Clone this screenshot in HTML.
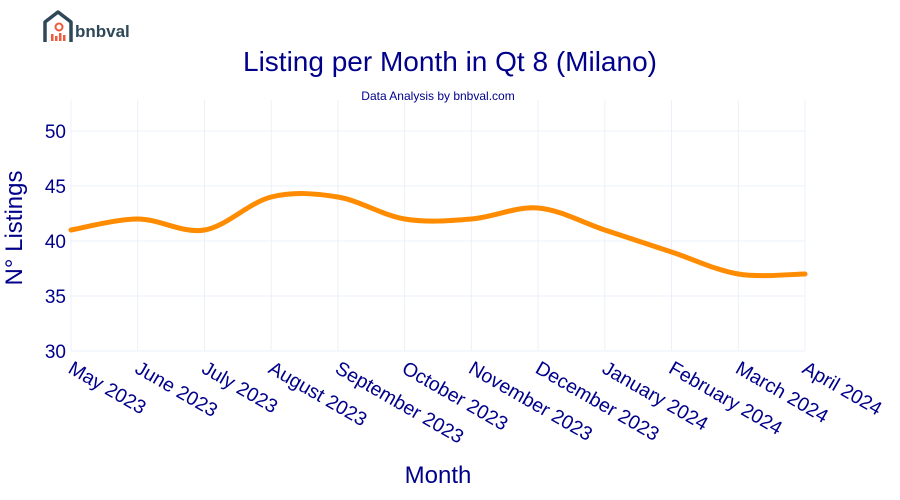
<!DOCTYPE html>
<html><head><meta charset="utf-8"><style>
body{margin:0;background:#fff;font-family:"Liberation Sans",Arial,sans-serif}
svg{display:block}
</style></head><body>
<svg width="900" height="500">
<g>
<path d="M45 42 V22 L58 12 L71 22 V42" fill="none" stroke="#2f4858" stroke-width="3.5" stroke-linejoin="round"/>
<circle cx="59" cy="27" r="3.5" fill="none" stroke="#f05a3c" stroke-width="2"/>
<rect x="51" y="34" width="2.5" height="7" fill="#f05a3c"/><rect x="55" y="36" width="2.5" height="5" fill="#f05a3c"/><rect x="59" y="33" width="2.5" height="8" fill="#f05a3c"/><rect x="63" y="35" width="2.5" height="6" fill="#f05a3c"/>
<text x="75" y="37" font-size="17" font-weight="bold" fill="#2f4858">bnbval</text>
</g>
<text x="450" y="71" text-anchor="middle" font-size="28" fill="#00008b">Listing per Month in Qt 8 (Milano)</text>
<text x="438" y="100" text-anchor="middle" font-size="12" fill="#00008b">Data Analysis by bnbval.com</text>
<g id="grid"></g>
<g id="yticks"></g>
<g id="xticks"></g>
<path id="line" fill="none" stroke="#ff8c00" stroke-width="5" stroke-linecap="round"/>
<text transform="translate(22,228) rotate(-90)" text-anchor="middle" font-size="24" fill="#00008b">N° Listings</text>
<text x="438" y="483" text-anchor="middle" font-size="24" fill="#00008b">Month</text>
</svg>
<script>
const months=["May 2023","June 2023","July 2023","August 2023","September 2023","October 2023","November 2023","December 2023","January 2024","February 2024","March 2024","April 2024"];
const listings=[41,42,41,44,44,42,42,43,41,39,37,37];
const yTicks=[30,35,40,45,50];
const NS="http://www.w3.org/2000/svg";
const X0=71,X1=805,Y0=351,YPER=11;
const xs=i=>X0+i*(X1-X0)/(months.length-1);
const ys=v=>Y0-(v-30)*YPER;
const grid=document.getElementById('grid'),yt=document.getElementById('yticks'),xt=document.getElementById('xticks');
function mk(tag,attrs,parent){const e=document.createElementNS(NS,tag);for(const k in attrs)e.setAttribute(k,attrs[k]);parent.appendChild(e);return e;}
yTicks.forEach(v=>{
 const l=mk('line',{x1:X0,x2:X1,y1:ys(v),y2:ys(v),stroke:'#ebf0f8','stroke-width':1},grid);
 
 
 const t=mk('text',{x:66,y:ys(v)+7,'text-anchor':'end','font-size':19,fill:'#00008b'},yt);
 t.textContent=v;
 
 
});
months.forEach((m,i)=>{
 const l=mk('line',{x1:xs(i),x2:xs(i),y1:100,y2:Y0,stroke:'#ebf0f8','stroke-width':1},grid);
 
 
 const t=mk('text',{transform:`translate(${xs(i)-4},${372}) rotate(30)`,'font-size':19.5,fill:'#00008b'},xt);
 t.textContent=m;
 
 
});
const P=listings.map((v,i)=>[xs(i),ys(v)]);
let d=`M${P[0][0]},${P[0][1]}`;
for(let i=0;i<P.length-1;i++){
 const p0=P[Math.max(0,i-1)],p1=P[i],p2=P[i+1],p3=P[Math.min(P.length-1,i+2)];
 const k=1/6;
 d+=` C${p1[0]+(p2[0]-p0[0])*k},${p1[1]+(p2[1]-p0[1])*k} ${p2[0]-(p3[0]-p1[0])*k},${p2[1]-(p3[1]-p1[1])*k} ${p2[0]},${p2[1]}`;
}
document.getElementById('line').setAttribute('d',d);
</script>
</body></html>
